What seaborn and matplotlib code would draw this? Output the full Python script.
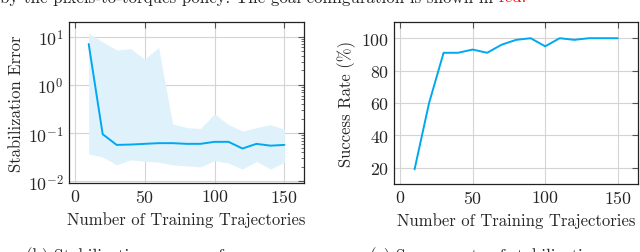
import seaborn as sns
import matplotlib.pyplot as plt
import pandas as pd

# Dữ liệu
trajectories = [10, 20, 30, 40, 50, 60, 70, 80, 90, 100, 110, 120, 130, 140, 150]
err_mean = [7.0, 0.095, 0.057, 0.058, 0.060, 0.062, 0.062, 0.060, 0.060, 0.066, 0.066, 0.048, 0.060, 0.055, 0.057]
err_upper = [11.7, 7.7, 5.3, 5.6, 3.4, 5.9, 0.156, 0.13, 0.125, 0.25, 0.15, 0.11, 0.13, 0.15, 0.12]
err_lower = [0.037, 0.032, 0.022, 0.028, 0.026, 0.025, 0.022, 0.021, 0.020, 0.027, 0.024, 0.018, 0.026, 0.018, 0.025]
success = [19, 60, 91, 91, 93, 91, 96, 99, 100, 95, 100, 99, 100, 100, 100]

df = pd.DataFrame({'n': trajectories, 'err': err_mean, 'lo': err_lower,
                   'hi': err_upper, 'success': success})

sns.set_style('whitegrid')
plt.rcParams['font.family'] = ['cmr10', 'DejaVu Serif']
plt.rcParams['mathtext.fontset'] = 'cm'
plt.rcParams['axes.formatter.use_mathtext'] = True

line_color = '#00a8f0'
fill_color = '#dff1fb'
grid_color = '#d4d4d4'
lab_fs = 12
tick_fs = 12.8
cap_fs = 12.2

fig = plt.figure(figsize=(6.4, 2.53), dpi=100)
ax1 = fig.add_axes([0.108, 0.273, 0.367, 0.636])
ax2 = fig.add_axes([0.616, 0.269, 0.381, 0.640])

# Biểu đồ trái: sai số ổn định (thang log)
ax1.fill_between(df['n'], df['lo'], df['hi'], color=fill_color, linewidth=0)
sns.lineplot(data=df, x='n', y='err', ax=ax1, color=line_color, linewidth=1.4)
ax1.set_yscale('log')
ax1.set_ylim(0.0093, 20)
ax1.set_xlim(-4, 164)
ax1.set_xticks([0, 50, 100, 150])
ax1.set_ylabel('Stabilization Error', fontsize=lab_fs, labelpad=3)

# Biểu đồ phải: tỉ lệ thành công
sns.lineplot(data=df, x='n', y='success', ax=ax2, color=line_color, linewidth=1.4)
ax2.set_ylim(10, 110)
ax2.set_xlim(-4, 164)
ax2.set_xticks([0, 50, 100, 150])
ax2.set_yticks([20, 40, 60, 80, 100])
ax2.set_ylabel('Success Rate (%)', fontsize=lab_fs, labelpad=3)

for ax in (ax1, ax2):
    ax.set_xlabel('Number of Training Trajectories', fontsize=lab_fs, labelpad=4)
    ax.grid(True, which='major', color=grid_color, linewidth=0.8)
    ax.grid(False, which='minor')
    for s in ax.spines.values():
        s.set_color('#222222')
        s.set_linewidth(0.9)
    ax.tick_params(which='both', direction='in', top=True, right=True,
                   labelsize=tick_fs, color='#555555', pad=4)
    ax.tick_params(which='major', length=4)
    ax.tick_params(which='minor', length=2.5)

# Chú thích bị cắt ở mép trên và dưới
cap = fig.text(0.0, 1.04, 'by the pixels-to-torques policy. The goal configuration is shown in ',
               fontsize=cap_fs, va='top', ha='left')
fig.canvas.draw()
bb = cap.get_window_extent().transformed(fig.transFigure.inverted())
fig.text(bb.x1, 1.04, 'red.', fontsize=cap_fs, va='top', ha='left', color='red')
fig.text(0.04, -0.05, '(b) Stabilization error performance', fontsize=cap_fs, va='bottom', ha='left')
fig.text(0.578, -0.05, '(c) Success rate of stabilization', fontsize=cap_fs, va='bottom', ha='left')

fig.savefig('out.png', dpi=100)
